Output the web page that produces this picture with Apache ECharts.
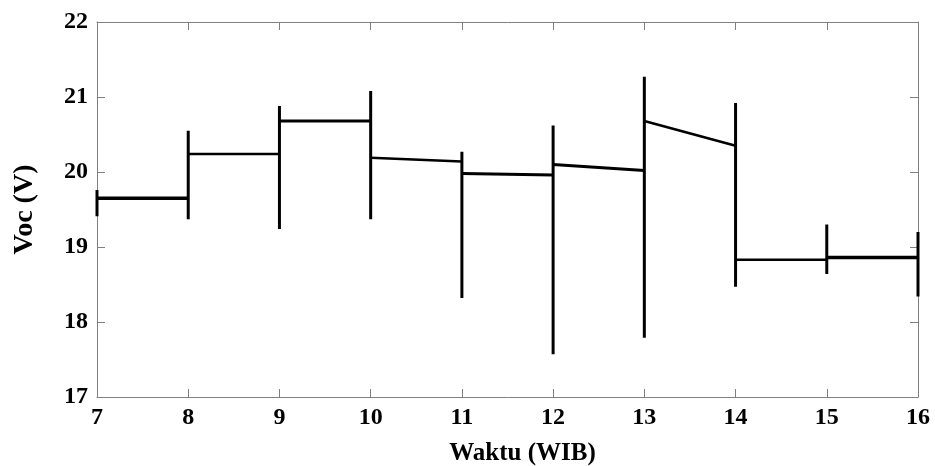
<!DOCTYPE html>
<html>
<head>
<meta charset="utf-8">
<script src="https://cdn.jsdelivr.net/npm/echarts@6/dist/echarts.min.js"></script>
<style>
  html, body { margin: 0; padding: 0; background: #fff; }
  #main { width: 935px; height: 466px; }
</style>
</head>
<body>
<div id="main"></div>
<script>
// jam pengukuran
var hours = [7, 8, 9, 10, 11, 12, 13, 14, 15, 16];
// rentang Voc tiap jam (batang vertikal)
var barLow  = [19.41, 19.37, 19.24, 19.37, 18.32, 17.57, 17.79, 18.47, 18.64, 18.34];
var barHigh = [19.76, 20.55, 20.88, 21.08, 20.27, 20.62, 21.27, 20.92, 19.30, 19.20];
// garis antar jam: nilai awal dan akhir tiap selang
var segStart = [19.65, 20.24, 20.68, 20.19, 19.98, 20.10, 20.68, 18.83, 18.86];
var segEnd   = [19.65, 20.24, 20.68, 20.14, 19.96, 20.02, 20.35, 18.83, 18.86];
var segWidth = [3.5, 2.5, 3, 2.5, 3, 3, 2.5, 2.5, 3.5];

var myChart = echarts.init(document.getElementById('main'));

var barData = hours.map(function (h, i) { return [h, barLow[i], barHigh[i]]; });
var segData = segStart.map(function (s, i) { return [hours[i], s, hours[i + 1], segEnd[i], segWidth[i]]; });

var font = '"Liberation Serif", "Times New Roman", serif';
var axisLine = { show: true, lineStyle: { color: '#808080', width: 1 } };

var option = {
    animation: false,
    grid: { left: 97, right: 17, top: 22, bottom: 69, containLabel: false, outerBoundsMode: 'none' },
    xAxis: [{
        type: 'value', min: 7, max: 16, interval: 1,
        name: 'Waktu (WIB)', nameLocation: 'middle', nameGap: 44,
        nameTextStyle: { fontFamily: font, fontWeight: 'bold', fontSize: 25, color: '#000', padding: [0, 0, 0, 30] },
        axisLine: axisLine,
        axisTick: { show: true, inside: true, length: 8, lineStyle: { color: '#808080' } },
        axisLabel: { fontFamily: font, fontWeight: 'bold', fontSize: 24, color: '#000', margin: 9 },
        splitLine: { show: false }
    }, {
        type: 'value', min: 7, max: 16, interval: 1, position: 'top',
        axisLine: axisLine,
        axisTick: { show: true, inside: true, length: 8, lineStyle: { color: '#808080' } },
        axisLabel: { show: false },
        splitLine: { show: false }
    }],
    yAxis: [{
        type: 'value', min: 17, max: 22, interval: 1,
        name: 'Voc (V)', nameLocation: 'middle', nameGap: 58,
        nameTextStyle: { fontFamily: font, fontWeight: 'bold', fontSize: 28, color: '#000' },
        axisLine: axisLine,
        axisTick: { show: true, inside: true, length: 8, lineStyle: { color: '#808080' } },
        axisLabel: { fontFamily: font, fontWeight: 'bold', fontSize: 24, color: '#000', margin: 9 },
        splitLine: { show: false }
    }, {
        type: 'value', min: 17, max: 22, interval: 1, position: 'right',
        axisLine: axisLine,
        axisTick: { show: true, inside: true, length: 8, lineStyle: { color: '#808080' } },
        axisLabel: { show: false },
        splitLine: { show: false }
    }],
    series: [
        {
            name: 'segmen',
            type: 'custom',
            data: segData,
            encode: { x: [0, 2], y: [1, 3] },
            renderItem: function (params, api) {
                var p1 = api.coord([api.value(0), api.value(1)]);
                var p2 = api.coord([api.value(2), api.value(3)]);
                return {
                    type: 'line',
                    shape: { x1: p1[0], y1: p1[1], x2: p2[0], y2: p2[1] },
                    style: { stroke: '#000', lineWidth: api.value(4) }
                };
            }
        },
        {
            name: 'rentang',
            type: 'custom',
            data: barData,
            encode: { x: 0, y: [1, 2] },
            renderItem: function (params, api) {
                var lo = api.coord([api.value(0), api.value(1)]);
                var hi = api.coord([api.value(0), api.value(2)]);
                return {
                    type: 'line',
                    shape: { x1: lo[0], y1: lo[1], x2: hi[0], y2: hi[1] },
                    style: { stroke: '#000', lineWidth: 3 }
                };
            }
        }
    ]
};

myChart.setOption(option);
window.onresize = myChart.resize;
</script>
</body>
</html>
